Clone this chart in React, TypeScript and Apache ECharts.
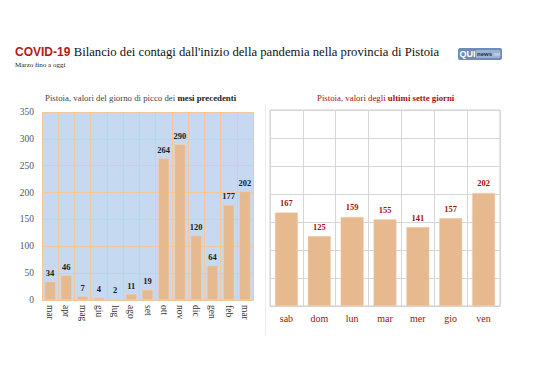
import React, { useEffect, useRef } from "react";
import * as echarts from "echarts";

const monthCats = ["mar", "apr", "mag", "giu", "lug", "ago", "set", "ott", "nov", "dic", "gen", "feb", "mar"];
const monthVals = [34, 46, 7, 4, 2, 11, 19, 264, 290, 120, 64, 177, 202];
const dayCats = ["sab", "dom", "lun", "mar", "mer", "gio", "ven"];
const dayVals = [167, 125, 159, 155, 141, 157, 202];
const yMax = 350;
const yStep = 50;

const SERIF = "'Liberation Serif', 'DejaVu Serif', serif";
const SANS = "'Liberation Sans', Arial, sans-serif";
const BAR = "#e7b98e";
const RED = "#a50f0f";

export default function App() {
  const ref = useRef<HTMLDivElement>(null);
  useEffect(() => {
    const chart = echarts.init(ref.current!, undefined, { renderer: "svg" });
    chart.setOption({
      animation: false,
      backgroundColor: "#ffffff",
      graphic: [
        {
          type: "text",
          left: 15,
          top: 45,
          style: {
            text: "{a|COVID-19} {b|Bilancio dei contagi dall'inizio della pandemia nella provincia di Pistoia}",
            rich: {
              a: { fontFamily: SANS, fontWeight: "bold", fontSize: 12, fill: "#b21a1a" },
              b: { fontFamily: SERIF, fontSize: 12.7, fill: "#111" },
            },
          },
        },
        {
          type: "text",
          left: 15,
          top: 61,
          style: { text: "Marzo fino a oggi", fontFamily: SERIF, fontSize: 7, fill: "#222" },
        },
        {
          type: "group",
          left: 458,
          top: 48,
          children: [
            { type: "rect", shape: { x: 0, y: 0, width: 44, height: 12, r: 2 }, style: { fill: "#6d8cb8" } },
            { type: "rect", shape: { x: 18, y: 2, width: 24, height: 8, r: 1 }, style: { fill: "#9fb3cf" } },
            { type: "text", x: 1.5, y: 1.5, style: { text: "QUI", fontFamily: SANS, fontWeight: "bold", fontSize: 9, fill: "#ffffff" } },
            { type: "text", x: 19, y: 3, style: { text: "news", fontFamily: SANS, fontWeight: "bold", fontSize: 6, fill: "#1e2f4f" } },
            { type: "text", x: 34, y: 3.5, style: { text: ".net", fontFamily: SANS, fontSize: 5, fill: "#dfe6f0" } },
          ],
        },
        {
          type: "text",
          left: 45,
          top: 93,
          style: {
            text: "{n|Pistoia, valori del giorno di picco dei }{b|mesi precedenti}",
            rich: {
              n: { fontFamily: SERIF, fontSize: 8.8, fill: "#444" },
              b: { fontFamily: SERIF, fontSize: 8.8, fontWeight: "bold", fill: "#222" },
            },
          },
        },
        {
          type: "text",
          left: 317,
          top: 93,
          style: {
            text: "{n|Pistoia, valori degli }{b|ultimi sette giorni}",
            rich: {
              n: { fontFamily: SERIF, fontSize: 8.8, fill: RED },
              b: { fontFamily: SERIF, fontSize: 8.8, fontWeight: "bold", fill: RED },
            },
          },
        },
        {
          type: "line",
          shape: { x1: 265.5, y1: 104, x2: 265.5, y2: 335 },
          style: { stroke: "#ececec", lineWidth: 1 },
        },
      ],
      grid: [
        {
          left: 42, top: 112, width: 211, height: 188,
          show: true, backgroundColor: "#c6d9f1", borderWidth: 0,
        },
        {
          left: 270, top: 110, width: 230, height: 196,
          show: true, borderColor: "#d0d0d0", borderWidth: 1,
        },
      ],
      xAxis: [
        {
          type: "category", gridIndex: 0, data: monthCats,
          axisLine: { show: true, lineStyle: { color: "#f2c596" } },
          axisTick: { show: false },
          splitLine: { show: true, lineStyle: { color: "#f4c89a", width: 1 } },
          axisLabel: { rotate: -90, fontFamily: SERIF, fontSize: 9.5, color: "#333", margin: 5, interval: 0 },
        },
        {
          type: "category", gridIndex: 1, data: dayCats,
          axisLine: { show: true, lineStyle: { color: "#d0d0d0" } },
          axisTick: { show: false },
          splitLine: { show: true, lineStyle: { color: "#d6d6d6", width: 1 } },
          axisLabel: { fontFamily: SERIF, fontSize: 10, color: RED, margin: 7, interval: 0 },
        },
      ],
      yAxis: [
        {
          type: "value", gridIndex: 0, min: 0, max: yMax, interval: yStep,
          axisLine: { show: false }, axisTick: { show: false },
          splitLine: { show: true, lineStyle: { color: "#f4c89a", width: 1 } },
          axisLabel: { fontFamily: SERIF, fontSize: 9.5, color: "#555", margin: 8 },
        },
        {
          type: "value", gridIndex: 1, min: 0, max: yMax, interval: yStep,
          axisLine: { show: false }, axisTick: { show: false },
          splitLine: { show: true, lineStyle: { color: "#d6d6d6", width: 1 } },
          axisLabel: { show: false },
        },
      ],
      series: [
        {
          type: "bar", xAxisIndex: 0, yAxisIndex: 0, data: monthVals,
          barCategoryGap: "32%",
          itemStyle: { color: BAR, borderColor: "#f3d3b3", borderWidth: 0.5 },
          label: { show: true, position: "top", distance: 4, fontFamily: SERIF, fontWeight: "bold", fontSize: 8.5, color: "#1a1a1a" },
        },
        {
          type: "bar", xAxisIndex: 1, yAxisIndex: 1, data: dayVals,
          barCategoryGap: "30%",
          itemStyle: { color: BAR, borderColor: "#f3d3b3", borderWidth: 0.5 },
          label: { show: true, position: "top", distance: 5, fontFamily: SERIF, fontWeight: "bold", fontSize: 8.5, color: RED },
        },
      ],
    });
    return () => chart.dispose();
  }, []);
  return <div ref={ref} style={{ position: "fixed", left: 0, top: 0, width: 538, height: 380 }} />;
}
